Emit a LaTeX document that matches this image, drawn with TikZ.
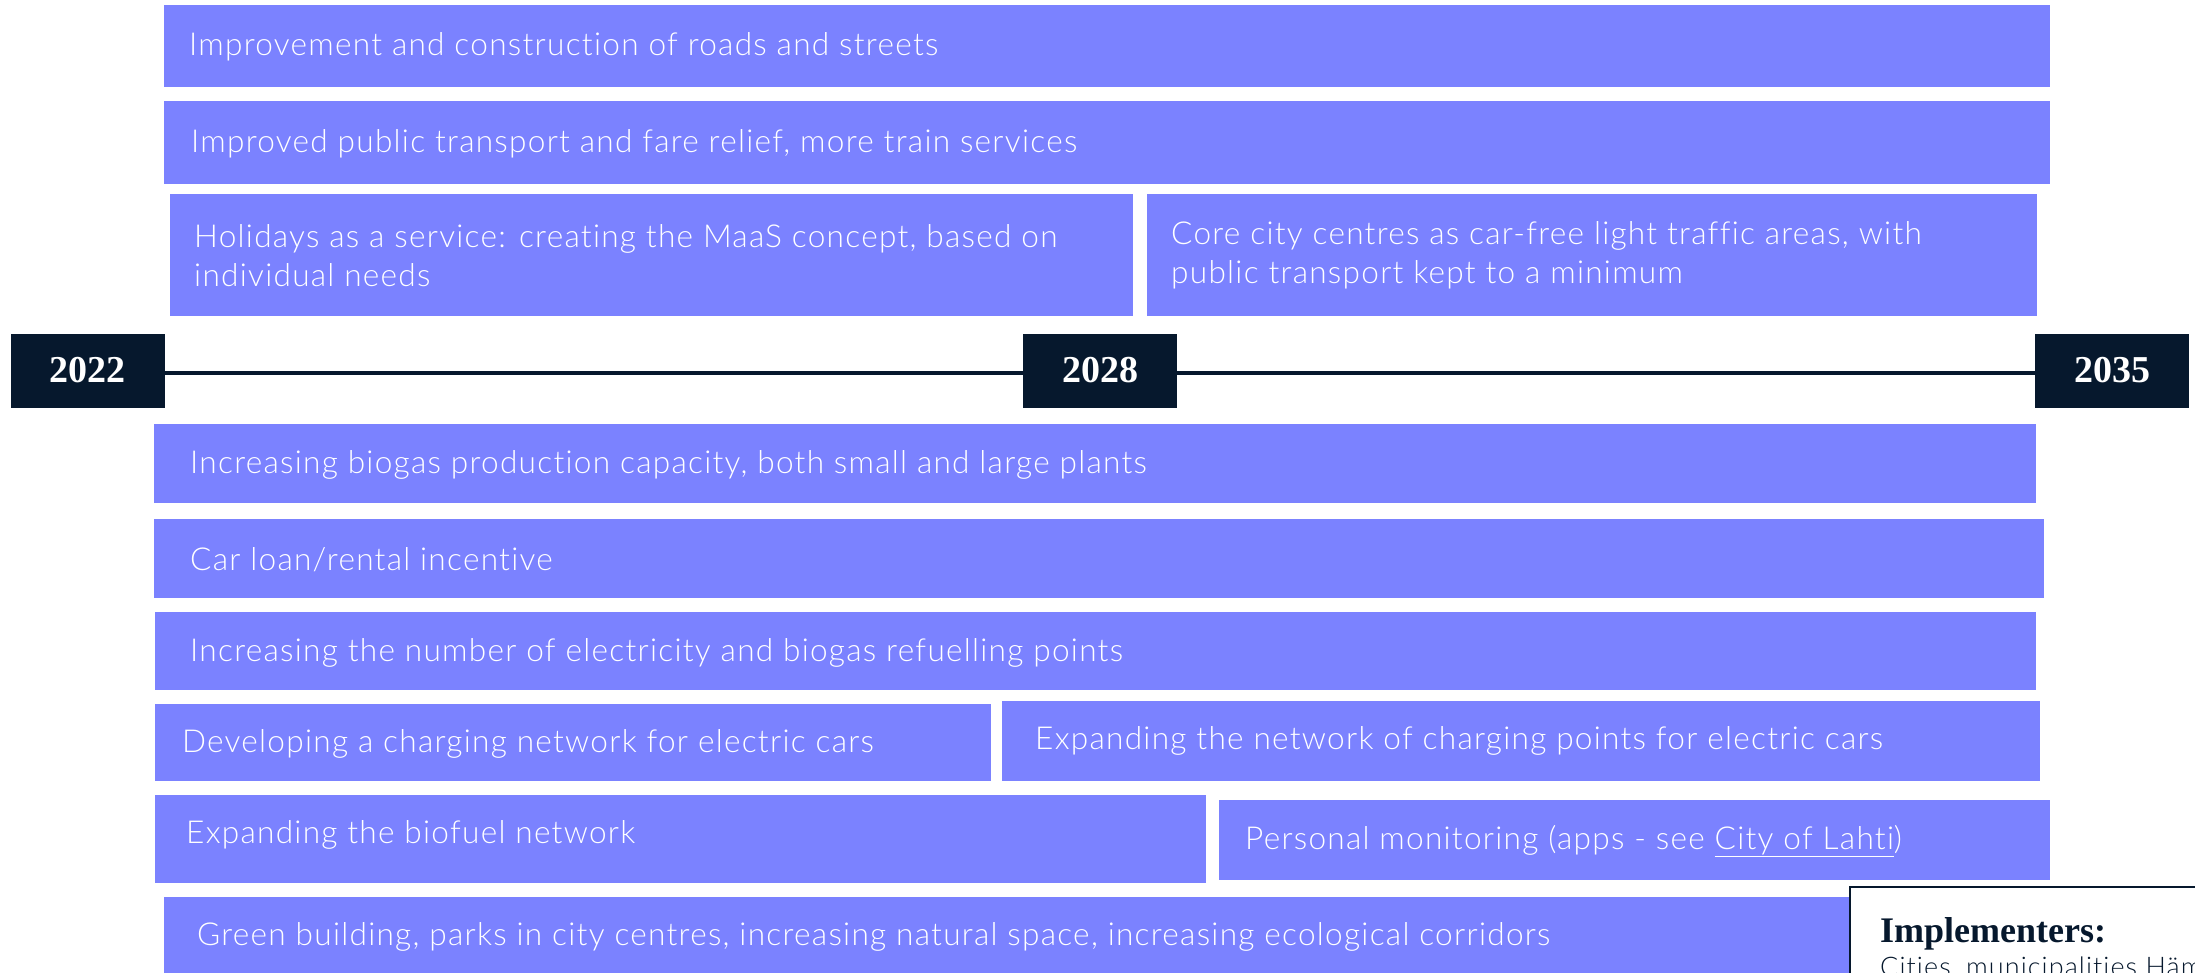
\documentclass[tikz,border=0pt]{standalone}
\usepackage{fontspec}
\setmainfont{Lato}[UprightFont=* Light, BoldFont=* Bold, Ligatures=NoCommon]
\newfontfamily\yearfont{Liberation Serif}
\newfontfamily\boxfont{Lato}[UprightFont=* Light, Ligatures=NoCommon, LetterSpace=4]
\usetikzlibrary{positioning}
\definecolor{boxc}{RGB}{123,130,255}
\definecolor{navy}{RGB}{6,24,45}
\tikzset{
  box/.style={fill=boxc, draw=none, inner sep=0pt, anchor=north west},
  lbl/.style={text=white, font=\boxfont\fontsize{31.6}{39}\selectfont, inner sep=0pt, anchor=west, align=left},
  yearbox/.style={fill=navy, draw=none, inner sep=0pt, minimum width=154pt, minimum height=74pt, text=white, font=\yearfont\bfseries\fontsize{38}{40}\selectfont},
}
\begin{document}
\begin{tikzpicture}[x=1pt,y=-1pt]
\useasboundingbox (0,0) rectangle (2195,972);
\clip (0,0) rectangle (2195,972);
% top boxes
\node[box, minimum width=1886pt, minimum height=82pt] (b1) at (164,5) {};
\node[lbl] (t1) at (189,47) {Improvement and construction of roads and streets};
\node[box, minimum width=1886pt, minimum height=83pt] (b2) at (164,101) {};
\node[lbl] (t2) at (191,144) {Improved public transport and fare relief, more train services};
\node[box, minimum width=963pt, minimum height=122pt] (b3a) at (170,194) {};
\node[lbl] (t3a) at (194,256) {Holidays as a service: creating the MaaS concept, based on\\individual needs};
\node[box, minimum width=890pt, minimum height=122pt] (b3b) at (1147,194) {};
\node[lbl] (t3b) at (1171,255) {Core city centres as car-free light traffic areas, with\\public transport kept to a minimum};
% timeline
\node[yearbox] (y22) at (87.5,370.5) {2022};
\node[yearbox] (y28) at (1100,370.5) {2028};
\node[yearbox] (y35) at (2112,370.5) {2035};
\draw[navy, line width=4pt] (y22.east |- 0,373) -- (y28.west |- 0,373);
\draw[navy, line width=4pt] (y28.east |- 0,373) -- (y35.west |- 0,373);
% bottom boxes
\node[box, minimum width=1882pt, minimum height=79pt] (b4) at (154,424) {};
\node[lbl] (t4) at (190,465) {Increasing biogas production capacity, both small and large plants};
\node[box, minimum width=1890pt, minimum height=79pt] (b5) at (154,519) {};
\node[lbl] (t5) at (190,560) {Car loan/rental incentive};
\node[box, minimum width=1881pt, minimum height=78pt] (b6) at (155,612) {};
\node[lbl] (t6) at (190,653) {Increasing the number of electricity and biogas refuelling points};
\node[box, minimum width=836pt, minimum height=77pt] (b7a) at (155,704) {};
\node[lbl] (t7a) at (182,744) {Developing a charging network for electric cars};
\node[box, minimum width=1038pt, minimum height=80pt] (b7b) at (1002,701) {};
\node[lbl] (t7b) at (1035,741) {Expanding the network of charging points for electric cars};
\node[box, minimum width=1051pt, minimum height=88pt] (b8a) at (155,795) {};
\node[lbl] (t8a) at (186,835) {Expanding the biofuel network};
\node[box, minimum width=831pt, minimum height=80pt] (b8b) at (1219,800) {};
\node[lbl] (t8b) at (1245,841) {Personal monitoring (apps - see \underline{City of Lahti})};
\node[box, minimum width=1886pt, minimum height=90pt] (b9) at (164,897) {};
\node[lbl] (t9) at (197,937) {Green building, parks in city centres, increasing natural space, increasing ecological corridors};
% implementers box
\node[fill=white, draw=navy, line width=2pt, inner sep=0pt, anchor=north west, minimum width=400pt, minimum height=150pt] (imp) at (1849,886) {};
\node[text=navy, inner sep=0pt, anchor=base west, font=\yearfont\bfseries\fontsize{36}{40}\selectfont] (impt) at (1880,942) {Implementers:};
\node[text=navy, inner sep=0pt, anchor=base west, font=\boxfont\fontsize{27}{30}\selectfont] (impc) at (1880,976) {Cities, municipalities Häme};
\end{tikzpicture}
\end{document}
